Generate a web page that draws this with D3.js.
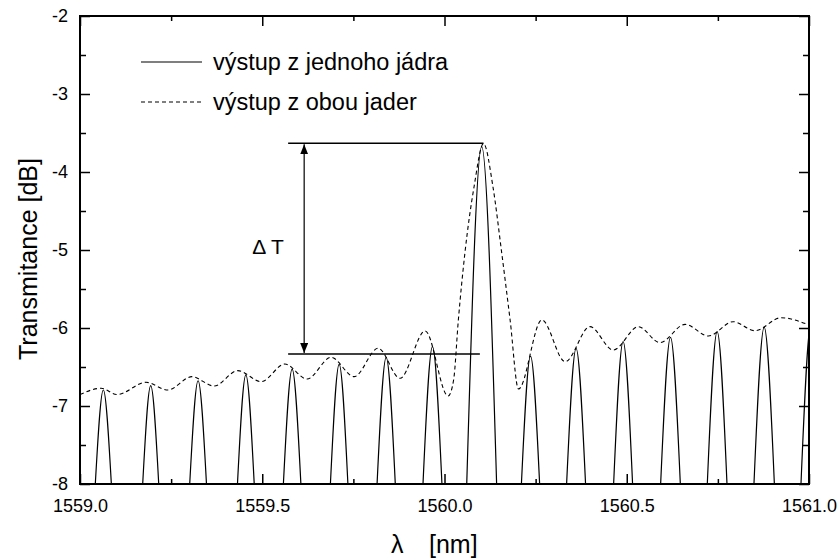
<!DOCTYPE html>
<html>
<head>
<meta charset="utf-8">
<script src="https://cdn.jsdelivr.net/npm/d3@7"></script>
<style>
  body { margin: 0; background: #fff; }
  text { font-family: Arial, "Liberation Sans", sans-serif; fill: #000; }
</style>
</head>
<body>
<svg id="chart" width="839" height="558"></svg>
<script>
// tick values
const xMajorTicks = [1559.0, 1559.5, 1560.0, 1560.5, 1561.0];
const xMinorTicks = [1559.25, 1559.75, 1560.25, 1560.75];
const yMajorTicks = [-8, -7, -6, -5, -4, -3, -2];
const yMinorTicks = [-7.5, -6.5, -5.5, -4.5, -3.5, -2.5];

// solid curve (single core output): one lobe each = [left foot, peak wavelength, peak dB, right foot]
const solidLobes = [
    [1559.042, 1559.064, -6.795, 1559.086],
    [1559.172, 1559.194, -6.740, 1559.216],
    [1559.301, 1559.324, -6.676, 1559.347],
    [1559.432, 1559.455, -6.600, 1559.478],
    [1559.558, 1559.582, -6.526, 1559.606],
    [1559.687, 1559.711, -6.466, 1559.735],
    [1559.815, 1559.840, -6.376, 1559.865],
    [1559.941, 1559.967, -6.240, 1559.993],
    [1560.061, 1560.102, -3.675, 1560.143],
    [1560.211, 1560.236, -6.360, 1560.261],
    [1560.335, 1560.361, -6.260, 1560.387],
    [1560.464, 1560.490, -6.175, 1560.516],
    [1560.593, 1560.620, -6.120, 1560.647],
    [1560.721, 1560.748, -6.047, 1560.775],
    [1560.849, 1560.877, -5.990, 1560.905],
    [1560.978, 1561.006, -5.930, 1561.034]
];

// dashed curve (both cores output)
const dashedWl = [1559.000, 1559.058, 1559.102, 1559.181, 1559.241, 1559.307, 1559.368, 1559.433,
    1559.497, 1559.562, 1559.623, 1559.689, 1559.752, 1559.818, 1559.878, 1559.947,
    1560.010, 1560.025, 1560.038, 1560.056, 1560.081, 1560.107, 1560.133, 1560.157,
    1560.180, 1560.203, 1560.267, 1560.331, 1560.399, 1560.463, 1560.532, 1560.591,
    1560.660, 1560.724, 1560.792, 1560.852, 1560.923, 1561.000];
const dashedDb = [-6.853, -6.773, -6.853, -6.696, -6.795, -6.624, -6.744, -6.547,
    -6.688, -6.462, -6.654, -6.376, -6.624, -6.260, -6.645, -6.038,
    -6.872, -6.667, -5.897, -5.038, -4.192, -3.635, -4.192, -5.038,
    -5.897, -6.782, -5.897, -6.432, -5.983, -6.282, -5.983, -6.188,
    -5.953, -6.103, -5.919, -6.035, -5.868, -5.962];

// delta T annotation
const deltaTop = -3.633;
const deltaBottom = -6.333;
const deltaArrowWl = 1559.615;
const deltaLineStart = 1559.571;
const deltaTopEnd = 1560.107;
const deltaBottomEnd = 1560.097;

const legendLabels = ['výstup z jednoho jádra', 'výstup z obou jader'];

const svg = d3.select('#chart');
const margin = { top: 16, left: 80, right: 30, bottom: 74 };
const width = +svg.attr('width');
const height = +svg.attr('height');

const xScale = d3.scaleLinear()
    .domain([1559, 1561])
    .range([margin.left, width - margin.right]);

const yScale = d3.scaleLinear()
    .domain([-8, -2])
    .range([height - margin.bottom, margin.top]);

const x0 = xScale.range()[0], x1 = xScale.range()[1];
const y0 = yScale.range()[0], y1 = yScale.range()[1];

svg.append('defs').append('clipPath').attr('id', 'plotclip')
    .append('rect')
    .attr('x', x0).attr('y', y1)
    .attr('width', x1 - x0).attr('height', y0 - y1);

const plot = svg.append('g').attr('clip-path', 'url(#plotclip)');

// solid lobes
const lobeLine = d3.line()
    .x(d => xScale(d[0]))
    .y(d => yScale(d[1]))
    .curve(d3.curveNatural);

plot.selectAll('path.lobe').data(solidLobes)
    .enter().append('path')
    .attr('class', 'lobe')
    .attr('d', d => lobeLine([[d[0], -8], [d[1], d[2]], [d[3], -8]]))
    .attr('fill', 'none')
    .attr('stroke', '#000')
    .attr('stroke-width', 1.2);

// dashed curve
const dashedData = dashedWl.map((w, i) => [w, dashedDb[i]]);
plot.append('path')
    .datum(dashedData)
    .attr('d', d3.line()
        .x(d => xScale(d[0]))
        .y(d => yScale(d[1]))
        .curve(d3.curveMonotoneX))
    .attr('fill', 'none')
    .attr('stroke', '#000')
    .attr('stroke-width', 1.1)
    .attr('stroke-dasharray', '4,3');

// axes, ticks inward on all four sides
const tickLabelFont = '18px';

const xAxisG = svg.append('g')
    .attr('transform', `translate(0, ${y0})`)
    .call(d3.axisBottom(xScale)
        .tickValues(xMajorTicks)
        .tickFormat(d3.format('.1f'))
        .tickSize(-10)
        .tickPadding(15));
xAxisG.select('.domain').remove();
xAxisG.selectAll('text').style('font-size', tickLabelFont).attr('dy', '0.71em');

svg.append('g')
    .attr('transform', `translate(0, ${y0})`)
    .call(d3.axisBottom(xScale).tickValues(xMinorTicks).tickFormat('').tickSize(-5))
    .select('.domain').remove();

svg.append('g')
    .attr('transform', `translate(0, ${y1})`)
    .call(d3.axisTop(xScale).tickValues(xMajorTicks).tickFormat('').tickSize(-10))
    .select('.domain').remove();
svg.append('g')
    .attr('transform', `translate(0, ${y1})`)
    .call(d3.axisTop(xScale).tickValues(xMinorTicks).tickFormat('').tickSize(-5))
    .select('.domain').remove();

const yAxisG = svg.append('g')
    .attr('transform', `translate(${x0}, 0)`)
    .call(d3.axisLeft(yScale)
        .tickValues(yMajorTicks)
        .tickFormat(d => String(d))
        .tickSize(-10)
        .tickPadding(12));
yAxisG.select('.domain').remove();
yAxisG.selectAll('text').style('font-size', tickLabelFont);

svg.append('g')
    .attr('transform', `translate(${x0}, 0)`)
    .call(d3.axisLeft(yScale).tickValues(yMinorTicks).tickFormat('').tickSize(-6))
    .select('.domain').remove();

svg.append('g')
    .attr('transform', `translate(${x1}, 0)`)
    .call(d3.axisRight(yScale).tickValues(yMajorTicks).tickFormat('').tickSize(-10))
    .select('.domain').remove();
svg.append('g')
    .attr('transform', `translate(${x1}, 0)`)
    .call(d3.axisRight(yScale).tickValues(yMinorTicks).tickFormat('').tickSize(-6))
    .select('.domain').remove();

svg.selectAll('.tick line').attr('stroke', '#000').attr('stroke-width', 1.5);

// frame
svg.append('rect')
    .attr('x', x0).attr('y', y1)
    .attr('width', x1 - x0).attr('height', y0 - y1)
    .attr('fill', 'none')
    .attr('stroke', '#000')
    .attr('stroke-width', 2);

// axis titles
const xTitle = svg.append('text')
    .attr('y', 553)
    .style('font-size', '25px');
xTitle.append('tspan').attr('x', 391).text('λ');
xTitle.append('tspan').attr('x', 429).text('[nm]');

svg.append('text')
    .attr('transform', `translate(37, 259) rotate(-90)`)
    .attr('text-anchor', 'middle')
    .style('font-size', '25px')
    .text('Transmitance [dB]');

// legend
const legend = svg.append('g');
legendLabels.forEach((label, i) => {
    const ly = 62 + i * 40;
    legend.append('line')
        .attr('x1', 141).attr('x2', 202)
        .attr('y1', ly).attr('y2', ly)
        .attr('stroke', '#000')
        .attr('stroke-width', i === 0 ? 1.2 : 1.1)
        .attr('stroke-dasharray', i === 0 ? null : '4,3');
    legend.append('text')
        .attr('x', 213)
        .attr('y', ly + 8)
        .style('font-size', '23.5px')
        .text(label);
});

// delta T marker
const defs = svg.select('defs');
defs.append('marker')
    .attr('id', 'arrow')
    .attr('viewBox', '0 0 10 8')
    .attr('refX', 10).attr('refY', 4)
    .attr('markerWidth', 10).attr('markerHeight', 8)
    .attr('markerUnits', 'userSpaceOnUse')
    .attr('orient', 'auto-start-reverse')
    .append('path')
    .attr('d', 'M0,0 L10,4 L0,8 Z')
    .attr('fill', '#000');

svg.append('line')
    .attr('x1', xScale(deltaLineStart)).attr('x2', xScale(deltaTopEnd))
    .attr('y1', yScale(deltaTop)).attr('y2', yScale(deltaTop))
    .attr('stroke', '#000').attr('stroke-width', 1.5);
svg.append('line')
    .attr('x1', xScale(deltaLineStart)).attr('x2', xScale(deltaBottomEnd))
    .attr('y1', yScale(deltaBottom)).attr('y2', yScale(deltaBottom))
    .attr('stroke', '#000').attr('stroke-width', 1.5);
svg.append('line')
    .attr('x1', xScale(deltaArrowWl)).attr('x2', xScale(deltaArrowWl))
    .attr('y1', yScale(deltaTop) + 1).attr('y2', yScale(deltaBottom) - 1)
    .attr('stroke', '#000').attr('stroke-width', 1.2)
    .attr('marker-start', 'url(#arrow)')
    .attr('marker-end', 'url(#arrow)');

svg.append('text')
    .attr('x', 268)
    .attr('y', 254)
    .attr('text-anchor', 'middle')
    .style('font-size', '21px')
    .attr('xml:space', 'preserve')
    .text('Δ T');
</script>
</body>
</html>
